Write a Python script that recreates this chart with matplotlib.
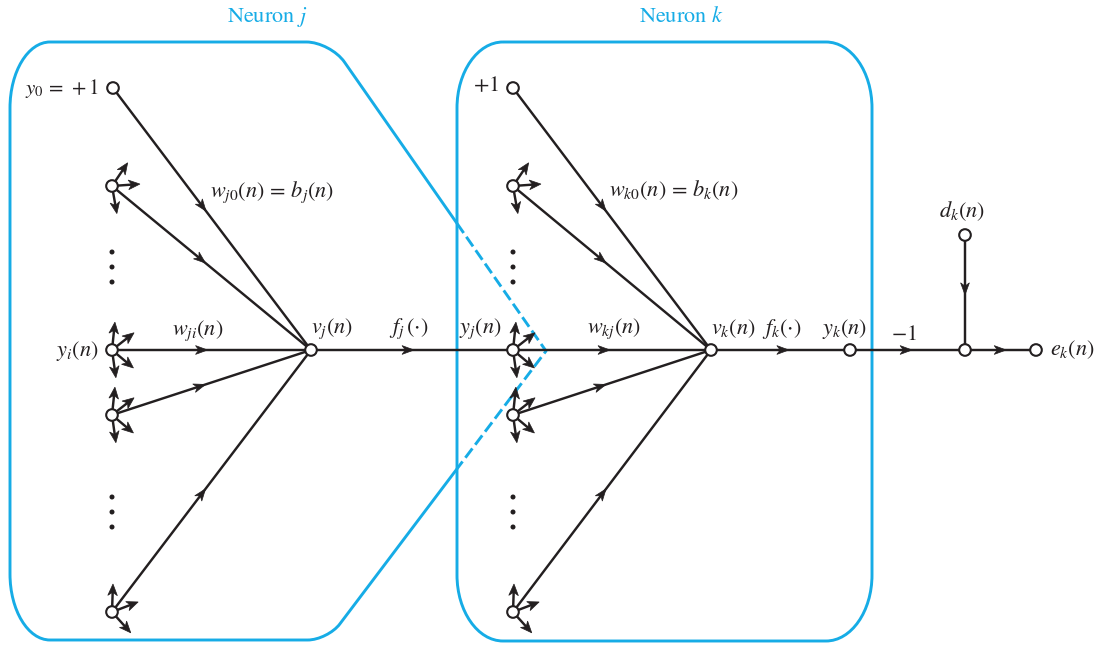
import numpy as np
import matplotlib
matplotlib.use("Agg")
import matplotlib.pyplot as plt
from matplotlib.patches import Circle, Polygon, PathPatch
from matplotlib.path import Path

plt.rcParams['font.family'] = ['STIXGeneral', 'DejaVu Serif']
plt.rcParams['mathtext.fontset'] = 'stix'

CYAN = '#16ACE6'
INK = '#231F20'

# ---------------- diagram data ----------------
# node name -> (x, y) in picture pixels
nodes = {
    'y0': (113, 88), 'a1': (112, 186), 'yi': (112, 350), 'a3': (112, 415), 'a4': (112, 612),
    'vj': (311, 350),
    'p1': (513, 88), 'b1': (513, 186), 'yj': (513, 350), 'b3': (513, 415), 'b4': (513, 612),
    'vk': (711, 350), 'yk': (850, 350), 'sum': (965, 350), 'dk': (965, 235), 'ek': (1036, 350),
}
# directed edges: (source, target, position of arrow tip along edge)
edges = [
    ('y0', 'vj', 0.47), ('a1', 'vj', 0.47), ('yi', 'vj', 0.48), ('a3', 'vj', 0.47), ('a4', 'vj', 0.47),
    ('vj', 'yj', 0.51),
    ('p1', 'vk', 0.47), ('b1', 'vk', 0.47), ('yj', 'vk', 0.49), ('b3', 'vk', 0.47), ('b4', 'vk', 0.47),
    ('vk', 'yk', 0.56), ('yk', 'sum', 0.54), ('sum', 'ek', 0.58), ('dk', 'sum', 0.52),
]
# fan-out arrow directions (degrees) at input nodes
fan_top = [56, 4, -80]
fan_mid = [84, 38, -40, -82]
fan_bot = [88, 21, -48]
fanouts = {'a1': fan_top, 'yi': fan_mid, 'a3': fan_mid, 'a4': fan_bot,
           'b1': fan_top, 'yj': fan_mid, 'b3': fan_mid, 'b4': fan_bot}
# ellipsis dots
dot_cols = [112, 513]
dot_rows = [252, 267, 282, 497, 512, 527]

# labels: (text, x, y, ha, fontsize)
labels = [
    (r'$y_0\,=\,+1$', 99, 88, 'right', 15),
    (r'$w_{j0}(n)\,=\,b_j(n)$', 210, 192, 'left', 16),
    (r'$w_{ji}(n)$', 172, 331, 'left', 16),
    (r'$y_i(n)$', 99, 351, 'right', 16),
    (r'$v_j(n)$', 311, 329, 'left', 16),
    (r'$f_j\,(\cdot)$', 389, 329, 'left', 16),
    (r'$y_j(n)$', 459, 329, 'left', 16),
    (r'$+1$', 499, 86, 'right', 16),
    (r'$w_{k0}(n)\,=\,b_k(n)$', 609, 190, 'left', 16),
    (r'$w_{kj}(n)$', 587, 329, 'left', 16),
    (r'$v_k(n)$', 711, 329, 'left', 16),
    (r'$f_k(\cdot)$', 762, 329, 'left', 16),
    (r'$y_k(n)$', 822, 329, 'left', 16),
    (r'$-1$', 891, 335, 'left', 16),
    (r'$d_k(n)$', 939, 211, 'left', 16),
    (r'$e_k(n)$', 1050, 350, 'left', 16),
]
titles = [(r'Neuron $j$', 267, 17), (r'Neuron $k$', 681, 17)]

# ---------------- drawing ----------------
fig = plt.figure(figsize=(11, 6.51), dpi=100)
ax = fig.add_axes([0, 0, 1, 1])
ax.set_xlim(0, 1100)
ax.set_ylim(651, 0)
ax.axis('off')

LW = 1.75
FS = 16


def arrowhead(tip, d, L=12.0, W=4.4):
    d = np.asarray(d, float)
    d = d / np.hypot(*d)
    n = np.array([-d[1], d[0]])
    tip = np.asarray(tip, float)
    back = tip - L * d
    notch = tip - 0.72 * L * d
    pts = [tip, back + W * n, notch, back - W * n]
    ax.add_patch(Polygon(pts, closed=True, facecolor=INK, edgecolor=INK, lw=0.5, zorder=4))


for s, t, f in edges:
    p0 = np.array(nodes[s], float)
    p1 = np.array(nodes[t], float)
    ax.plot([p0[0], p1[0]], [p0[1], p1[1]], color=INK, lw=LW, zorder=3, solid_capstyle='butt')
    arrowhead(p0 + f * (p1 - p0), p1 - p0)

for name, angs in fanouts.items():
    c = np.array(nodes[name], float)
    for a in angs:
        d = np.array([np.cos(np.radians(a)), -np.sin(np.radians(a))])
        end = c + 28 * d
        ax.plot([c[0], end[0] - 6 * d[0]], [c[1], end[1] - 6 * d[1]], color=INK, lw=LW, zorder=3)
        arrowhead(end, d, L=11.5, W=4.8)

for x in dot_cols:
    for y in dot_rows:
        ax.add_patch(Circle((x, y), 2.5, facecolor=INK, edgecolor='none', zorder=5))

for name, (x, y) in nodes.items():
    ax.add_patch(Circle((x, y), 5.8, facecolor='white', edgecolor=INK, lw=1.5, zorder=6))

for txt, x, y, ha, fs in labels:
    ax.text(x, y, txt, fontsize=fs, color=INK, ha=ha, va='center', zorder=7)

for txt, x, y in titles:
    ax.text(x, y, txt, fontsize=FS, color=CYAN, ha='center', va='center')

# ---------------- neuron boxes ----------------
K = 0.55
BLW = 2.1


def corner(p_from, corner_pt, p_to):
    # cubic approximation of an elliptical rounded corner
    p_from, corner_pt, p_to = map(np.asarray, (p_from, corner_pt, p_to))
    c1 = p_from + K * (corner_pt - p_from)
    c2 = p_to + K * (corner_pt - p_to)
    return [tuple(c1), tuple(c2), tuple(p_to)]


# Neuron k box
L_, R_, T_, B_ = 457, 872, 42, 641
rx, ry = 46, 66
verts = [(L_ + rx, T_), (R_ - rx, T_)]
codes = [Path.MOVETO, Path.LINETO]
verts += corner((R_ - rx, T_), (R_, T_), (R_, T_ + ry)); codes += [Path.CURVE4] * 3
verts += [(R_, B_ - ry)]; codes += [Path.LINETO]
verts += corner((R_, B_ - ry), (R_, B_), (R_ - rx, B_)); codes += [Path.CURVE4] * 3
verts += [(L_ + rx, B_)]; codes += [Path.LINETO]
verts += corner((L_ + rx, B_), (L_, B_), (L_, B_ - ry)); codes += [Path.CURVE4] * 3
verts += [(L_, T_ + ry)]; codes += [Path.LINETO]
verts += corner((L_, T_ + ry), (L_, T_), (L_ + rx, T_)); codes += [Path.CURVE4] * 3
ax.add_patch(PathPatch(Path(verts, codes), facecolor='none', edgecolor=CYAN, lw=BLW, zorder=2))

# Neuron j box (with dashed apex inside neuron k)
apex = np.array([546.0, 351.0])
up_dir = np.array([343.0, 60.0]) - apex      # towards top
lo_dir = np.array([333.0, 633.0]) - apex     # towards bottom
jL, jT, jB = 10, 42, 640
jrx, jry = 40, 66


def on_line(d, y):
    return apex + (y - apex[1]) / d[1] * d


def at_x(d, x):
    return apex + (x - apex[0]) / d[0] * d


top_c = on_line(up_dir, jT)
bot_c = on_line(lo_dir, jB)
up_start = on_line(up_dir, jT + 20)
lo_end = on_line(lo_dir, jB - 16)
cross_up = at_x(up_dir, L_)
cross_lo = at_x(lo_dir, L_)

verts = [tuple(cross_up), tuple(up_start)]
codes = [Path.MOVETO, Path.LINETO]
p_top_end = (top_c[0] - 24, jT)
verts += corner(up_start, top_c, p_top_end); codes += [Path.CURVE4] * 3
verts += [(jL + jrx, jT)]; codes += [Path.LINETO]
verts += corner((jL + jrx, jT), (jL, jT), (jL, jT + jry)); codes += [Path.CURVE4] * 3
verts += [(jL, jB - jry)]; codes += [Path.LINETO]
verts += corner((jL, jB - jry), (jL, jB), (jL + jrx, jB)); codes += [Path.CURVE4] * 3
p_bot_start = (bot_c[0] - 20, jB)
verts += [p_bot_start]; codes += [Path.LINETO]
verts += corner(p_bot_start, bot_c, lo_end); codes += [Path.CURVE4] * 3
verts += [tuple(cross_lo)]; codes += [Path.LINETO]
ax.add_patch(PathPatch(Path(verts, codes), facecolor='none', edgecolor=CYAN, lw=BLW, zorder=2))

ax.plot([cross_up[0], apex[0], cross_lo[0]], [cross_up[1], apex[1], cross_lo[1]],
        color=CYAN, lw=BLW, ls=(0, (4, 1.6)), zorder=2)

fig.savefig('out.png', dpi=100)
